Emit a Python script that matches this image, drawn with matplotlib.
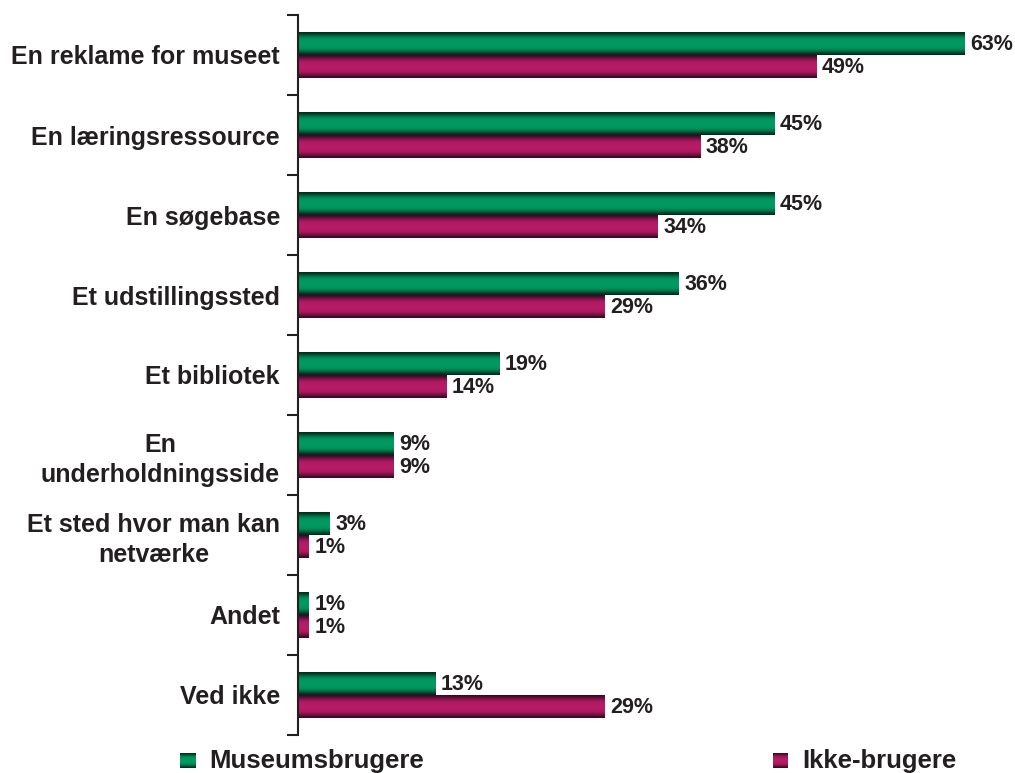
import numpy as np
import matplotlib
matplotlib.use("Agg")
import matplotlib.pyplot as plt
from matplotlib.colors import LinearSegmentedColormap

categories = ["En reklame for museet", "En læringsressource", "En søgebase",
              "Et udstillingssted", "Et bibliotek", "En\nunderholdningsside",
              "Et sted hvor man kan\nnetværke", "Andet", "Ved ikke"]
museumsbrugere = [63, 45, 45, 36, 19, 9, 3, 1, 13]
ikke_brugere = [49, 38, 34, 29, 14, 9, 1, 1, 29]
series_names = ["Museumsbrugere", "Ikke-brugere"]

TEXT = "#231f20"
plt.rcParams["font.family"] = ["Liberation Sans", "DejaVu Sans"]

# tube-like shading: dark at the top and bottom edge, bright in the middle
green_cm = LinearSegmentedColormap.from_list("g", ["#002a1b", "#006640", "#008f58", "#009a60"])
mag_cm = LinearSegmentedColormap.from_list("m", ["#360a20", "#7a1345", "#aa195e", "#b81c66"])
t = np.linspace(0, 1, 64)
shade = np.sin(np.pi * t) ** 1.4
grad = shade[:, None] * np.ones((1, 4))

fig = plt.figure(figsize=(10.15, 7.73), dpi=100)
ax = fig.add_axes([298 / 1015, 1 - 735 / 773, 1 - 298 / 1015 - 0.01, 720 / 773])

h = 0.2875
for i, (a, b) in enumerate(zip(museumsbrugere, ikke_brugere)):
    for v, y0, cm in ((a, i - h, green_cm), (b, i, mag_cm)):
        ax.imshow(grad, extent=[0, v, y0 + h, y0], aspect="auto", cmap=cm,
                  vmin=0, vmax=1, interpolation="bilinear", zorder=2)
        ax.annotate(f"{v}%", (v, y0 + h / 2), xytext=(4, -1), textcoords="offset points",
                    ha="left", va="center", fontsize=15.5, fontweight="bold", color=TEXT)

ax.set_xlim(0, 66.8)
ax.set_ylim(len(categories) - 0.5, -0.5)
for s in ("top", "right", "bottom"):
    ax.spines[s].set_visible(False)
ax.spines["left"].set_color(TEXT)
ax.spines["left"].set_linewidth(1.5)
ax.set_xticks([])
ax.set_yticks(np.arange(len(categories) + 1) - 0.5)
ax.set_yticklabels([])
ax.tick_params(axis="y", which="major", length=8, width=1.5, color=TEXT)
ax.set_yticks(np.arange(len(categories)), minor=True)
ax.set_yticklabels(categories, minor=True, fontsize=18, fontweight="bold",
                   color=TEXT, multialignment="center", linespacing=1.3)
ax.tick_params(axis="y", which="minor", length=0, pad=13)

# legend along the bottom edge
for x0, cm, name in ((180, green_cm, series_names[0]), (773, mag_cm, series_names[1])):
    lax = fig.add_axes([x0 / 1015, 1 - 768 / 773, 15 / 1015, 15 / 773])
    lax.imshow(grad, aspect="auto", cmap=cm, vmin=0, vmax=1, interpolation="bilinear")
    lax.axis("off")
    fig.text((x0 + 29) / 1015, 1 - 761 / 773, name, ha="left", va="center",
             fontsize=18.5, fontweight="bold", color=TEXT)

fig.savefig("out.png", dpi=100)
